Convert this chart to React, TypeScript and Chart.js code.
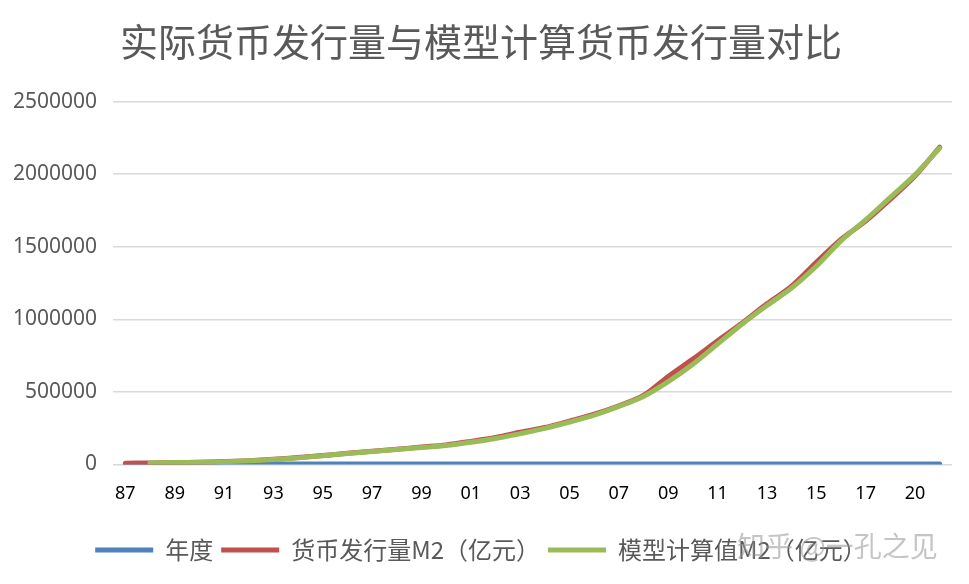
import React, { useEffect, useRef } from "react";
import { Chart, registerables } from "chart.js";

Chart.register(...registerables);

const TITLE = "实际货币发行量与模型计算货币发行量对比";

const years = [
  1987, 1988, 1989, 1990, 1991, 1992, 1993, 1994, 1995, 1996, 1997, 1998,
  1999, 2000, 2001, 2002, 2003, 2004, 2005, 2006, 2007, 2008, 2009, 2010,
  2011, 2012, 2013, 2014, 2015, 2016, 2017, 2018, 2019, 2020,
];

// tick labels exactly as shown under the axis (one every two categories)
const xTickLabels = [
  "87", "89", "91", "93", "95", "97", "99", "01", "03", "05", "07", "09",
  "11", "13", "15", "17", "20",
];

const actualM2 = [
  8330, 10100, 11950, 15293, 19350, 25402, 34880, 46924, 60751, 76095,
  90995, 104499, 119898, 134610, 158302, 185007, 221223, 254107, 298756,
  345604, 403442, 475167, 606225, 725852, 851591, 974149, 1106525, 1228375,
  1392278, 1550067, 1676769, 1826744, 1986488, 2186796,
];

const modelM2 = [
  null, 10500, 12500, 15000, 19000, 24500, 33000, 45000, 60000, 75000,
  89000, 102000, 116000, 130000, 152000, 178000, 212000, 248000, 292000,
  340000, 400000, 468000, 570000, 690000, 830000, 968000, 1095000, 1215000,
  1365000, 1540000, 1685000, 1840000, 1995000, 2180000,
];

const yMax = 2500000;
const yStep = 500000;

const seriesNames = ["年度", "货币发行量M2（亿元）", "模型计算值M2（亿元）"];
const seriesColors = ["#4f81bd", "#c0504d", "#9bbb59"];

const WATERMARK = "知乎 @一孔之见";

export default function App() {
  const ref = useRef<HTMLCanvasElement | null>(null);

  useEffect(() => {
    if (!ref.current) return;
    const watermark = {
      id: "watermark",
      afterDraw(chart: any) {
        const ctx = chart.ctx;
        ctx.save();
        ctx.font = '28px "Noto Sans CJK SC"';
        ctx.fillStyle = "rgba(150,150,150,0.55)";
        ctx.textAlign = "left";
        ctx.textBaseline = "middle";
        ctx.fillText(WATERMARK, 737, 546);
        ctx.restore();
      },
    };
    const chart = new Chart(ref.current, {
      type: "line",
      data: {
        labels: years.map(String),
        datasets: [
          {
            label: seriesNames[0],
            data: years,
            borderColor: seriesColors[0],
            backgroundColor: seriesColors[0],
            order: 3,
          },
          {
            label: seriesNames[1],
            data: actualM2,
            borderColor: seriesColors[1],
            backgroundColor: seriesColors[1],
            order: 2,
          },
          {
            label: seriesNames[2],
            data: modelM2,
            borderColor: seriesColors[2],
            backgroundColor: seriesColors[2],
            order: 1,
          },
        ] as any,
      },
      options: {
        responsive: false,
        animation: false,
        layout: { padding: { left: 10, right: 17, top: 0, bottom: 12 } },
        elements: {
          point: { radius: 0 },
          line: {
            borderWidth: 5,
            tension: 0.3,
            borderCapStyle: "round",
            borderJoinStyle: "round",
          },
        },
        plugins: {
          tooltip: { enabled: false },
          title: {
            display: true,
            text: TITLE,
            color: "#595959",
            font: { family: '"Noto Sans CJK SC"', size: 38, weight: "normal" },
            padding: { top: 19, bottom: 37 },
          },
          legend: {
            display: true,
            position: "bottom",
            labels: {
              color: "#595959",
              font: { family: '"Noto Sans CJK SC"', size: 24 },
              boxWidth: 58,
              boxHeight: 5,
              padding: 8,
              generateLabels(chart: any) {
                return chart.data.datasets.map((d: any, i: number) => ({
                  text: d.label,
                  fillStyle: d.borderColor,
                  strokeStyle: d.borderColor,
                  lineWidth: 0,
                  hidden: false,
                  datasetIndex: i,
                  fontColor: "#595959",
                }));
              },
            },
          },
        },
        scales: {
          x: {
            offset: true,
            grid: { display: false, drawTicks: false },
            border: { display: false },
            ticks: {
              autoSkip: false,
              maxRotation: 0,
              minRotation: 0,
              padding: 19,
              color: "#000000",
              font: { family: '"Noto Sans"', size: 18 },
              callback: (_v: any, i: number) =>
                i % 2 === 0 ? xTickLabels[i / 2] ?? "" : "",
            },
            afterFit(scale: any) {
              scale.height = 65.6;
            },
          },
          y: {
            min: 0,
            max: yMax,
            grid: { color: "#d9d9d9", lineWidth: 1.5, drawTicks: false },
            border: { display: false },
            ticks: {
              stepSize: yStep,
              padding: 16,
              color: "#595959",
              font: { family: '"Noto Sans"', size: 21 },
              callback: (v: any) => String(v),
            },
            afterFit(scale: any) {
              scale.width = 103;
            },
          },
        },
      } as any,
      plugins: [watermark],
    });
    return () => chart.destroy();
  }, []);

  return (
    <div
      style={{
        position: "absolute",
        left: 0,
        top: 0,
        width: 969,
        height: 584,
        background: "#ffffff",
      }}
    >
      <canvas ref={ref} width={969} height={584} style={{ display: "block" }} />
    </div>
  );
}
